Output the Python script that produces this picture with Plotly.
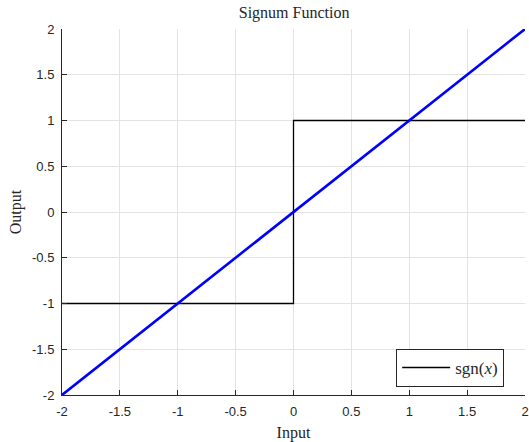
import plotly.graph_objects as go

# Data
sgn_x = [-2, 0, 0, 2]
sgn_y = [-1, -1, 1, 1]
lin_x = [-2, 2]
lin_y = [-2, 2]
x_ticks = [-2, -1.5, -1, -0.5, 0, 0.5, 1, 1.5, 2]
x_labels = ["-2", "-1.5", "-1", "-0.5", "0", "0.5", "1", "1.5", "2"]
y_ticks = [-2, -1.5, -1, -0.5, 0, 0.5, 1, 1.5, 2]
y_labels = ["-2", "-1.5", "-1", "-0.5", "0", "0.5", "1", "1.5", "2"]

fig = go.Figure()
fig.add_trace(go.Scatter(x=sgn_x, y=sgn_y, mode="lines", name="sgn(<i>x</i>)",
                         line=dict(color="black", width=1.3)))
fig.add_trace(go.Scatter(x=lin_x, y=lin_y, mode="lines", showlegend=False,
                         line=dict(color="#0000ff", width=2.6)))

axis_common = dict(
    showgrid=True, gridcolor="#e3e3e3", gridwidth=1,
    zeroline=False, showline=True, linecolor="#262626", linewidth=1,
    ticks="inside", ticklen=5, tickcolor="#262626", mirror=False,
    automargin=False, ticklabelstandoff=4,
    tickfont=dict(family="Liberation Sans, Arial, sans-serif", size=13, color="#262626"),
)

fig.update_layout(
    width=529, height=442,
    margin=dict(l=62, r=4, t=29, b=47),
    paper_bgcolor="white", plot_bgcolor="white",
    title=dict(text="Signum Function", x=0.556, xanchor="center", y=0.985, yanchor="top",
               font=dict(family="Liberation Serif, Times New Roman, serif", size=16, color="#262626")),
    xaxis=dict(range=[-2, 2], tickvals=x_ticks, ticktext=x_labels,
               title=dict(text="Input", standoff=10,
                          font=dict(family="Liberation Serif, serif", size=16, color="#262626")),
               **axis_common),
    yaxis=dict(range=[-2, 2], tickvals=y_ticks, ticktext=y_labels,
               title=dict(text="Output", standoff=6,
                          font=dict(family="Liberation Serif, serif", size=16, color="#262626")),
               **axis_common),
    legend=dict(x=0.955, y=0.022, xanchor="right", yanchor="bottom",
                bgcolor="white", bordercolor="#262626", borderwidth=1,
                font=dict(family="Liberation Serif, serif", size=17, color="#262626"),
                itemwidth=48, tracegroupgap=0),
    showlegend=True,
)

fig.write_html("out.html")
